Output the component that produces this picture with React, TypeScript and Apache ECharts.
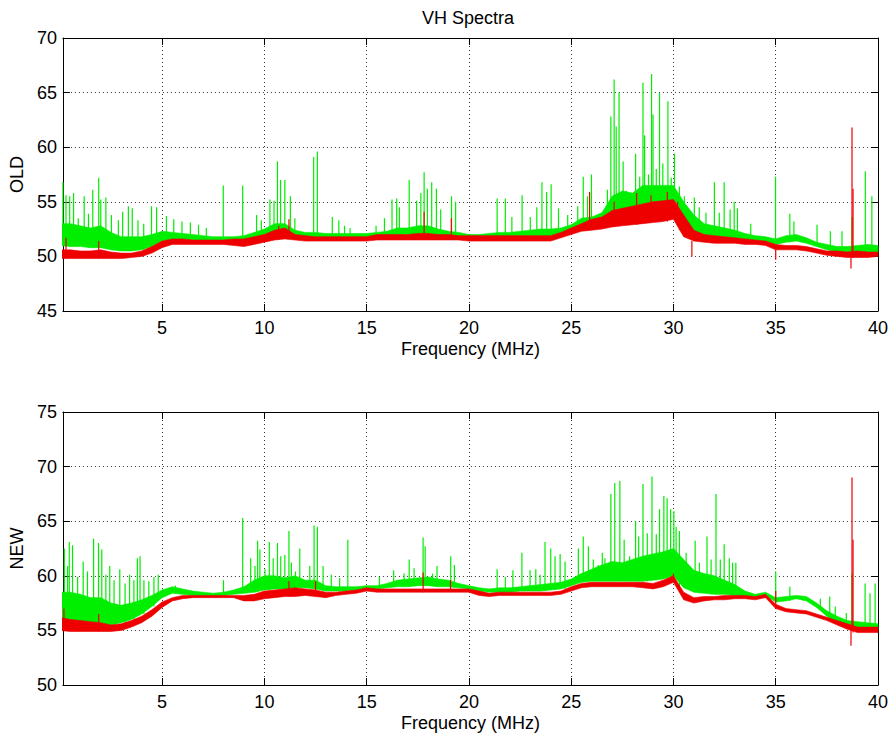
import React, { useEffect, useRef } from "react";
import * as echarts from "echarts";

// Frequency samples (MHz) for the noise-floor envelopes
const freqs = [0,0.5,1,1.5,2,2.5,3,3.5,4,4.5,5,5.5,6,6.5,7,7.5,8,8.5,9,9.5,10,10.5,11,11.5,12,12.5,13,13.5,14,14.5,15,15.5,16,16.5,17,17.5,18,18.5,19,19.5,20,20.5,21,21.5,22,22.5,23,23.5,24,24.5,25,25.5,26,26.5,27,27.5,28,28.5,29,29.5,30,30.5,31,31.5,32,32.5,33,33.5,34,34.5,35,35.5,36,36.5,37,37.5,38,38.5,39,39.5,40];

// OLD (top) – green envelope
const oldGreenLo = [51.0,50.9,50.9,50.8,50.8,50.6,50.5,50.5,50.6,50.9,51.4,51.6,51.6,51.5,51.5,51.5,51.5,51.5,51.5,51.6,51.7,51.9,52.0,51.8,51.7,51.6,51.6,51.6,51.6,51.7,51.7,51.7,51.7,51.8,51.8,51.9,51.9,51.8,51.8,51.7,51.7,51.6,51.6,51.7,51.7,51.7,51.8,51.8,51.8,52.0,52.3,52.6,52.7,52.8,53.0,53.0,53.2,53.3,53.3,53.5,53.5,52.4,52.0,51.8,51.6,51.6,51.5,51.5,51.4,51.4,51.1,51.3,51.4,51.2,50.9,50.6,50.4,50.3,50.3,50.4,50.3];
const oldGreenHi = [53.0,53.0,52.8,52.6,52.8,52.2,51.8,51.8,51.8,52.0,52.3,52.2,52.1,52.0,51.9,51.8,51.8,51.8,51.9,52.2,52.5,53.0,53.0,52.4,52.2,52.2,52.1,52.1,52.1,52.1,52.1,52.2,52.3,52.6,52.6,52.8,52.8,52.5,52.3,52.2,52.0,52.0,52.1,52.2,52.2,52.3,52.4,52.5,52.5,52.6,52.9,53.5,53.6,54.0,55.5,56.0,55.8,56.5,56.5,56.5,56.5,55.0,53.8,53.0,52.8,52.6,52.4,52.1,51.9,51.8,51.6,51.9,52.0,51.7,51.3,51.1,50.9,50.9,51.0,51.1,51.0];
// OLD (top) – red envelope
const oldRedLo = [49.8,49.8,49.8,49.8,49.8,49.8,49.8,49.9,50.0,50.3,50.8,51.1,51.1,51.1,51.1,51.1,51.1,51.0,50.9,51.1,51.3,51.5,51.6,51.5,51.4,51.4,51.4,51.4,51.4,51.4,51.4,51.5,51.5,51.5,51.5,51.5,51.5,51.5,51.5,51.5,51.4,51.4,51.4,51.4,51.4,51.4,51.4,51.4,51.4,51.7,52.0,52.3,52.4,52.5,52.7,52.8,52.9,53.0,53.1,53.2,53.4,51.8,51.4,51.3,51.2,51.2,51.2,51.1,51.1,51.0,50.6,50.6,50.6,50.5,50.3,50.1,50.0,49.9,49.9,49.9,50.0];
const oldRedHi = [50.6,50.6,50.5,50.5,50.6,50.4,50.3,50.3,50.5,50.9,51.4,51.6,51.6,51.5,51.5,51.5,51.5,51.6,51.6,51.8,52.0,52.4,52.6,52.0,51.9,51.8,51.8,51.8,51.8,51.8,51.8,52.0,52.0,52.0,52.0,52.1,52.1,52.0,52.0,51.9,51.9,51.9,51.9,51.9,51.9,51.9,51.9,51.9,51.9,52.2,52.6,53.0,53.4,53.6,54.2,54.4,54.6,54.8,55.0,55.1,55.2,53.8,52.4,52.0,51.9,51.8,51.7,51.6,51.5,51.4,51.1,51.0,51.0,50.9,50.7,50.5,50.5,50.4,50.5,50.4,50.4];

// NEW (bottom) – green envelope
const newGreenLo = [56.0,55.8,55.7,55.6,55.6,55.5,55.7,56.0,56.5,57.2,58.0,58.4,58.3,58.2,58.1,58.1,58.2,58.3,58.4,58.5,58.7,58.8,58.8,58.9,58.9,58.8,58.6,58.6,58.6,58.7,58.8,58.8,58.9,59.0,59.0,59.1,59.1,59.0,59.0,58.9,58.8,58.6,58.5,58.5,58.5,58.6,58.6,58.6,58.7,58.8,59.1,59.4,59.5,59.5,59.5,59.5,59.5,59.5,59.6,59.7,60.0,58.9,58.5,58.4,58.3,58.3,58.2,58.1,58.0,58.2,57.6,57.7,57.9,57.7,57.1,56.3,55.7,55.3,55.0,54.9,55.0];
const newGreenHi = [58.5,58.5,58.3,58.0,58.0,57.5,57.3,57.5,57.8,58.2,58.7,59.0,58.8,58.6,58.5,58.4,58.5,58.7,59.0,59.6,60.0,60.0,59.8,60.0,59.6,59.6,59.1,59.0,59.0,59.0,59.1,59.1,59.3,59.6,59.7,59.8,59.9,59.7,59.6,59.3,59.1,58.9,58.8,58.9,58.9,59.0,59.1,59.2,59.3,59.4,59.7,60.2,60.6,61.0,61.3,61.2,61.5,61.8,62.0,62.2,62.5,61.5,60.5,60.2,60.0,59.6,59.2,58.6,58.3,58.5,58.0,58.1,58.2,58.1,57.5,56.8,56.3,55.9,55.8,55.7,55.6];
// NEW (bottom) – red envelope
const newRedLo = [55.0,54.9,54.9,54.9,54.9,54.9,55.0,55.3,55.7,56.3,57.1,57.7,57.9,58.0,58.0,58.0,58.0,58.0,57.7,57.7,57.9,58.0,58.1,58.1,58.2,58.1,58.0,58.2,58.3,58.4,58.6,58.5,58.5,58.5,58.5,58.5,58.5,58.5,58.5,58.5,58.5,58.2,58.1,58.2,58.2,58.2,58.2,58.2,58.2,58.3,58.6,58.9,59.0,59.0,59.0,59.0,59.0,58.9,58.8,59.0,59.4,57.8,57.5,57.7,57.8,57.8,57.9,57.9,57.8,58.0,57.0,56.7,56.6,56.5,56.2,55.9,55.5,55.1,54.8,54.8,54.8];
const newRedHi = [56.2,56.0,55.9,55.8,55.7,55.5,55.6,55.9,56.3,56.9,57.6,58.0,58.2,58.2,58.2,58.2,58.2,58.2,58.2,58.3,58.6,58.7,58.8,58.9,58.8,58.7,58.5,58.5,58.6,58.7,58.9,58.8,58.8,58.8,58.8,58.8,58.8,58.8,58.8,58.8,58.8,58.6,58.4,58.5,58.5,58.5,58.5,58.5,58.5,58.6,59.0,59.3,59.4,59.4,59.4,59.4,59.4,59.4,59.3,59.6,60.0,58.5,58.0,58.1,58.1,58.2,58.2,58.2,58.1,58.3,57.4,57.0,56.9,56.8,56.5,56.2,55.9,55.6,55.3,55.3,55.3];

// Narrow spikes: [frequency MHz, level]
const oldGreenSpikes = [[0.15,56.8],[0.3,55.6],[0.48,55.5],[0.67,55.8],[0.9,53.5],[1.19,55.5],[1.4,53.9],[1.61,56.1],[1.9,57.2],[2.0,55.2],[2.25,55.4],[2.52,53.8],[2.86,53.3],[3.07,54.1],[3.35,54.6],[3.54,54.4],[3.82,53.3],[4.1,53.0],[4.48,54.6],[4.73,54.5],[5.21,53.7],[5.57,53.4],[5.97,53.2],[6.38,53.1],[6.78,52.9],[7.16,52.6],[7.99,56.5],[8.94,56.5],[9.62,53.8],[9.85,53.3],[10.27,55.2],[10.47,55.1],[10.64,58.7],[10.79,57.0],[11.0,57.0],[11.27,55.5],[11.49,53.5],[12.41,59.1],[12.59,59.6],[13.32,53.6],[13.64,53.3],[13.92,52.8],[14.19,52.6],[15.46,52.8],[15.87,53.5],[16.24,55.2],[16.47,55.3],[16.6,54.5],[17.08,57.0],[17.44,55.1],[17.65,55.8],[17.81,57.7],[17.97,56.2],[18.18,56.8],[18.41,56.2],[18.62,54.3],[19.15,55.5],[19.35,55.0],[21.38,55.3],[21.78,55.3],[22.1,53.6],[22.6,55.6],[23.0,53.6],[23.32,54.5],[23.57,56.8],[23.8,55.9],[24.02,56.6],[24.38,54.4],[24.83,53.8],[25.32,54.6],[25.59,57.3],[25.8,55.5],[25.99,57.5],[26.77,56.1],[26.94,62.8],[27.1,66.2],[27.2,61.9],[27.34,65.0],[27.54,58.7],[27.7,56.0],[27.94,55.5],[28.15,59.4],[28.35,57.3],[28.51,65.9],[28.59,61.1],[28.78,57.5],[28.93,66.7],[29.0,63.0],[29.16,58.0],[29.32,65.0],[29.48,58.5],[29.73,64.2],[29.89,57.2],[30.05,59.4],[30.29,56.4],[30.53,55.5],[31.02,55.4],[31.26,54.5],[31.59,54.0],[32.0,56.8],[32.24,54.0],[32.48,56.8],[32.77,54.3],[32.97,55.0],[33.13,54.4],[33.78,53.0],[34.99,57.3],[35.69,53.9],[35.89,53.2],[37.02,52.9],[37.67,52.3],[38.24,52.3],[38.73,53.6],[39.38,57.8],[39.7,55.5]];
const oldRedSpikes = [[0.3,51.7],[1.9,51.4],[10.7,52.8],[11.2,53.4],[17.81,54.1],[19.14,53.5],[25.9,55.9],[27.1,55.0],[28.2,55.8],[28.9,55.6],[29.7,55.9],[30.2,55.0],[30.9,50.0],[35.0,49.7],[38.68,48.9],[38.73,61.8],[38.78,56.2]];
const newGreenSpikes = [[0.22,62.5],[0.38,60.9],[0.46,63.1],[0.62,62.8],[0.87,59.9],[1.14,61.3],[1.35,60.4],[1.65,63.4],[1.89,63.0],[2.05,62.4],[2.25,60.1],[2.44,60.9],[2.65,59.6],[2.93,60.6],[3.19,59.3],[3.41,60.1],[3.62,59.6],[3.79,61.6],[3.92,61.8],[4.11,59.6],[4.35,59.5],[4.6,59.9],[4.81,60.1],[5.65,59.1],[8.0,59.6],[8.94,65.3],[9.33,61.6],[9.54,60.9],[9.67,63.2],[9.78,62.4],[10.03,60.6],[10.24,63.1],[10.43,61.6],[10.64,63.0],[10.8,61.8],[11.0,61.9],[11.2,64.1],[11.32,61.2],[11.52,60.4],[11.73,62.5],[11.98,59.5],[12.22,60.9],[12.43,64.6],[12.59,64.5],[12.87,60.9],[13.27,60.1],[13.68,59.8],[14.08,63.3],[15.62,59.9],[16.32,60.5],[16.83,60.2],[17.08,61.5],[17.32,60.7],[17.76,63.5],[17.86,62.7],[18.22,60.2],[18.44,60.9],[19.11,61.8],[19.29,61.0],[21.38,60.6],[21.78,59.9],[22.15,60.5],[22.59,62.1],[22.99,60.5],[23.27,60.6],[23.48,60.1],[23.72,63.1],[24.0,62.5],[24.21,61.8],[24.46,62.0],[24.7,61.3],[25.35,62.5],[25.59,63.6],[25.84,62.7],[26.08,61.5],[26.32,61.0],[26.52,62.1],[26.65,61.6],[26.94,67.5],[27.13,68.5],[27.38,68.7],[27.59,63.3],[27.86,61.8],[28.15,65.0],[28.3,63.6],[28.51,68.4],[28.72,63.9],[28.95,69.1],[29.16,63.8],[29.32,66.1],[29.53,67.3],[29.69,67.1],[29.86,66.1],[30.02,65.9],[30.13,64.5],[30.29,64.1],[30.62,62.1],[31.06,63.2],[31.27,61.2],[31.64,63.6],[31.84,61.5],[32.08,67.5],[32.29,61.5],[32.48,62.9],[32.73,61.6],[32.89,61.2],[33.05,61.2],[35.0,60.4],[35.69,59.0],[37.18,57.9],[37.64,58.1],[37.91,57.2],[38.45,56.6],[38.73,60.2],[39.37,59.3],[39.61,58.4],[39.86,59.3]];
const newRedSpikes = [[0.2,57.0],[1.9,56.5],[11.2,59.5],[12.5,59.5],[17.76,60.3],[19.1,59.6],[30.0,60.2],[35.0,58.6],[38.68,53.6],[38.73,69.0],[38.78,63.3]];

const FONT = "'Liberation Sans', Arial, Helvetica, sans-serif";
const GREEN = "#00ee00";
const RED = "#ee0000";

function nearestIndex(f: number): number {
  let best = 0;
  for (let i = 1; i < freqs.length; i++) {
    if (Math.abs(freqs[i] - f) < Math.abs(freqs[best] - f)) best = i;
  }
  return best;
}

function bandSeries(p: number, lo: number[], hi: number[], color: string) {
  return {
    type: "custom",
    xAxisIndex: p * 2,
    yAxisIndex: p * 2,
    clip: true,
    silent: true,
    data: [[20, lo[40], hi[40]]],
    encode: { x: 0, y: [1, 2] },
    renderItem: (_params: any, api: any) => {
      const pts: number[][] = [];
      for (let i = 0; i < freqs.length; i++) pts.push(api.coord([freqs[i], hi[i]]));
      for (let i = freqs.length - 1; i >= 0; i--) pts.push(api.coord([freqs[i], lo[i]]));
      return {
        type: "polygon",
        shape: { points: pts },
        style: { fill: color, stroke: color, lineWidth: 0.6 },
      };
    },
  };
}

function spikeSeries(p: number, list: number[][], lo: number[], color: string) {
  return {
    type: "custom",
    xAxisIndex: p * 2,
    yAxisIndex: p * 2,
    clip: true,
    silent: true,
    data: list.map(([f, v]) => [f, lo[nearestIndex(f)], v]),
    encode: { x: 0, y: [1, 2] },
    renderItem: (_params: any, api: any) => {
      const a = api.coord([api.value(0), api.value(1)]);
      const b = api.coord([api.value(0), api.value(2)]);
      return {
        type: "line",
        shape: { x1: a[0], y1: a[1], x2: b[0], y2: b[1] },
        style: { stroke: color, lineWidth: 1.2 },
      };
    },
  };
}

const xFormatter = (v: number) => (Math.abs(v % 5) < 1e-6 ? String(v) : "");

function xAxisPair(gi: number) {
  const common = {
    type: "value",
    gridIndex: gi,
    min: 0.15,
    max: 40,
    splitNumber: 8,
    axisLine: { show: true, onZero: false, lineStyle: { color: "#000", width: 1 } },
    axisTick: { show: true, inside: true, length: 7, lineStyle: { color: "#000" } },
  };
  return [
    {
      ...common,
      position: "bottom",
      axisLabel: { show: true, margin: 8, color: "#000", fontSize: 18, fontFamily: FONT, formatter: xFormatter },
      splitLine: { show: true, lineStyle: { color: "#333", type: [1, 3], width: 1 } },
      name: "Frequency (MHz)",
      nameLocation: "middle",
      nameGap: 29,
      nameTextStyle: { color: "#000", fontSize: 18, fontFamily: FONT },
    },
    {
      ...common,
      position: "top",
      axisLabel: { show: false },
      splitLine: { show: false },
    },
  ];
}

function yAxisPair(gi: number, min: number, max: number, name: string) {
  const common = {
    type: "value",
    gridIndex: gi,
    min,
    max,
    interval: 5,
    axisLine: { show: true, onZero: false, lineStyle: { color: "#000", width: 1 } },
    axisTick: { show: true, inside: true, length: 7, lineStyle: { color: "#000" } },
  };
  return [
    {
      ...common,
      position: "left",
      axisLabel: { show: true, margin: 6, color: "#000", fontSize: 18, fontFamily: FONT },
      splitLine: { show: true, lineStyle: { color: "#333", type: [1, 3], width: 1 } },
      name,
      nameLocation: "middle",
      nameGap: 30,
      nameRotate: 90,
      nameTextStyle: { color: "#000", fontSize: 18, fontFamily: FONT },
    },
    {
      ...common,
      position: "right",
      axisLabel: { show: false },
      splitLine: { show: false },
    },
  ];
}

export default function App() {
  const ref = useRef<HTMLDivElement>(null);
  useEffect(() => {
    if (!ref.current) return;
    const chart = echarts.init(ref.current, undefined, { renderer: "svg" });
    chart.setOption({
      animation: false,
      backgroundColor: "#ffffff",
      grid: [
        { left: 59, top: 38, width: 819, height: 273, containLabel: false },
        { left: 59, top: 412, width: 819, height: 273, containLabel: false },
      ],
      xAxis: [...xAxisPair(0), ...xAxisPair(1)],
      yAxis: [...yAxisPair(0, 45, 70, "OLD"), ...yAxisPair(1, 50, 75, "NEW")],
      graphic: [
        {
          type: "text",
          x: 468,
          y: 18,
          style: {
            text: "VH Spectra",
            fill: "#000",
            fontSize: 18,
            fontFamily: FONT,
            align: "center",
            verticalAlign: "middle",
          },
        },
      ],
      series: [
        bandSeries(0, oldGreenLo, oldGreenHi, GREEN),
        spikeSeries(0, oldGreenSpikes, oldGreenLo, GREEN),
        bandSeries(0, oldRedLo, oldRedHi, RED),
        spikeSeries(0, oldRedSpikes, oldRedLo, RED),
        bandSeries(1, newGreenLo, newGreenHi, GREEN),
        spikeSeries(1, newGreenSpikes, newGreenLo, GREEN),
        bandSeries(1, newRedLo, newRedHi, RED),
        spikeSeries(1, newRedSpikes, newRedLo, RED),
      ],
    });
    return () => chart.dispose();
  }, []);
  return (
    <div
      ref={ref}
      style={{ position: "absolute", left: 0, top: 0, width: 891, height: 738, background: "#fff" }}
    />
  );
}
